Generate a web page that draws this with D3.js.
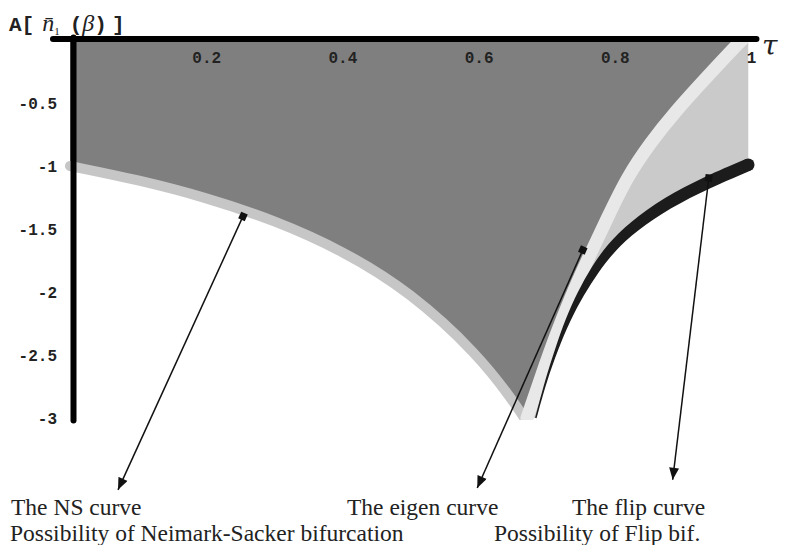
<!DOCTYPE html>
<html>
<head>
<meta charset="utf-8">
<script src="https://cdn.jsdelivr.net/npm/d3@7"></script>
<style>
body { margin: 0; background: #fff; }
</style>
</head>
<body>
<div id="chart"></div>
<script>
//Data
var xTicks = [0.2, 0.4, 0.6, 0.8, 1];
var yTicks = [-0.5, -1, -1.5, -2, -2.5, -3];

//NS curve (Neimark-Sacker)
var nsTau = [0, 0.1, 0.2, 0.3, 0.4, 0.5, 0.6, 0.65, 0.667];
var nsValue = [-1.0, -1.11, -1.25, -1.43, -1.67, -2.0, -2.5, -2.86, -3.0];

//eigen curve
var eigenTau = [0.671, 0.692, 0.714, 0.736, 0.761, 0.789, 0.818, 0.852, 0.887, 0.935, 0.979, 0.987];
var eigenValue = [-3.0, -2.667, -2.333, -2.032, -1.730, -1.413, -1.087, -0.817, -0.579, -0.294, -0.040, 0];

//flip curve
var flipTau = [0.684, 0.699, 0.714, 0.731, 0.750, 0.771, 0.794, 0.827, 0.877, 0.935, 0.996];
var flipValue = [-3.0, -2.70, -2.46, -2.22, -2.01, -1.82, -1.65, -1.48, -1.29, -1.13, -0.99];

//arrows: start on the curve, end next to the caption (tau, value)
var arrowFrom = [[0.254, -1.40], [0.753, -1.667], [0.938, -1.095]];
var arrowTo = [[0.0705, -3.57], [0.598, -3.556], [0.885, -3.49]];

var captionTop = ["The NS curve", "The eigen curve", "The flip curve"];
var captionBottom = ["Possibility of Neimark-Sacker bifurcation", "Possibility of Flip bif."];

//---------------------------------------------------------------------------//

//style: thickness of the flip curve along its points (thin at the bottom)
var flipWidth = [1.5, 2, 3, 5, 7, 8.5, 10, 11, 12, 12.5, 12.5];

var svgWidth = 796;
var svgHeight = 545;

var svg = d3.select("#chart")
    .append("svg")
    .attr("width", svgWidth)
    .attr("height", svgHeight);

var x = d3.scaleLinear().domain([0, 1]).range([70, 751]);
var y = d3.scaleLinear().domain([0, -3]).range([40, 418]);

function toPoints(ts, vs) {
    return ts.map(function(t, i) { return [x(t), y(vs[i])]; });
}

var nsPts = toPoints(nsTau, nsValue);
var eigenPts = toPoints(eigenTau, eigenValue);
var flipPts = toPoints(flipTau, flipValue);

var smooth = d3.line().curve(d3.curveBasis);

//clip shapes to the plot box
svg.append("defs").append("clipPath")
    .attr("id", "plotClip")
    .append("rect")
    .attr("x", x(0) - 12)
    .attr("y", y(0))
    .attr("width", x(1) - x(0) + 24)
    .attr("height", y(-3) - y(0) + 2);

var plot = svg.append("g").attr("clip-path", "url(#plotClip)");

//light region between eigen curve and flip curve
var lightPath = smooth(eigenPts.slice().reverse())
    + smooth(flipPts).replace("M", "L")
    + "L" + x(flipTau[flipTau.length - 1]) + "," + y(0) + "Z";
plot.append("path").attr("d", lightPath).attr("fill", "#cacaca");

//dark region above the NS curve and left of the eigen curve
var darkPath = smooth(nsPts)
    + smooth(eigenPts).replace("M", "L")
    + "L" + x(0) + "," + y(0) + "Z";
plot.append("path").attr("d", darkPath).attr("fill", "#7f7f7f");

//NS band
plot.append("path")
    .attr("d", smooth(nsPts))
    .attr("fill", "none")
    .attr("stroke", "#c6c6c6")
    .attr("stroke-width", 10)
    .attr("stroke-linecap", "round");

//eigen band
plot.append("path")
    .attr("d", smooth(eigenPts))
    .attr("fill", "none")
    .attr("stroke", "#e8e8e8")
    .attr("stroke-width", 13)
    .attr("stroke-linecap", "round");

//flip curve as a tapered ribbon
function ribbon(pts, widths) {
    var left = [], right = [];
    pts.forEach(function(p, i) {
        var a = pts[Math.max(i - 1, 0)], b = pts[Math.min(i + 1, pts.length - 1)];
        var dx = b[0] - a[0], dy = b[1] - a[1], len = Math.hypot(dx, dy);
        var nx = -dy / len, ny = dx / len, h = widths[i] / 2;
        left.push([p[0] + nx * h, p[1] + ny * h]);
        right.push([p[0] - nx * h, p[1] - ny * h]);
    });
    return smooth(left) + smooth(right.reverse()).replace("M", "L") + "Z";
}
plot.append("path").attr("d", ribbon(flipPts, flipWidth)).attr("fill", "#1c1c1c");
var flipEnd = flipPts[flipPts.length - 1];
plot.append("circle")
    .attr("cx", flipEnd[0]).attr("cy", flipEnd[1])
    .attr("r", flipWidth[flipWidth.length - 1] / 2)
    .attr("fill", "#1c1c1c");

//arrow markers
var defs = svg.select("defs");
defs.append("marker")
    .attr("id", "head")
    .attr("viewBox", "0 0 12 10")
    .attr("refX", 12).attr("refY", 5)
    .attr("markerWidth", 13).attr("markerHeight", 10)
    .attr("markerUnits", "userSpaceOnUse")
    .attr("orient", "auto")
    .append("path").attr("d", "M0,0L12,5L0,10Z").attr("fill", "#111");
defs.append("marker")
    .attr("id", "tail")
    .attr("viewBox", "-5 -5 10 10")
    .attr("refX", 0).attr("refY", 0)
    .attr("markerWidth", 9).attr("markerHeight", 9)
    .attr("markerUnits", "userSpaceOnUse")
    .attr("orient", "auto")
    .append("path").attr("d", "M-4,-4L4,-4L4,4L-4,4Z").attr("fill", "#111");

svg.selectAll(".arrow")
    .data(arrowFrom)
    .enter()
    .append("line")
    .attr("class", "arrow")
    .attr("x1", d => x(d[0]))
    .attr("y1", d => y(d[1]))
    .attr("x2", (d, i) => x(arrowTo[i][0]))
    .attr("y2", (d, i) => y(arrowTo[i][1]))
    .attr("stroke", "#111")
    .attr("stroke-width", 1.5)
    .attr("marker-start", "url(#tail)")
    .attr("marker-end", "url(#head)");

//axes lines (thick, Mathematica style)
svg.append("line")
    .attr("x1", x(-0.025)).attr("x2", x(1.008))
    .attr("y1", y(0) - 1).attr("y2", y(0) - 1)
    .attr("stroke", "#000").attr("stroke-width", 6).attr("stroke-linecap", "round");
svg.append("line")
    .attr("x1", x(0) + 3.5).attr("x2", x(0) + 3.5)
    .attr("y1", y(0.02)).attr("y2", y(-3.02))
    .attr("stroke", "#000").attr("stroke-width", 6).attr("stroke-linecap", "round");

//tick labels
var xAxis = svg.append("g")
    .attr("transform", `translate(0, ${y(0)})`)
    .call(d3.axisBottom(x).tickValues(xTicks).tickSize(0).tickPadding(12).tickFormat(d => String(d)));
var yAxis = svg.append("g")
    .attr("transform", `translate(${x(0)}, 0)`)
    .call(d3.axisLeft(y).tickValues(yTicks).tickSize(0).tickPadding(13).tickFormat(d => String(d)));
[xAxis, yAxis].forEach(function(g) {
    g.select(".domain").remove();
    g.attr("font-family", "Liberation Mono")
        .attr("font-size", 16)
        .attr("font-weight", "bold");
    g.selectAll("text").attr("fill", "#222");
});

//axis names
var yName = svg.append("text")
    .attr("x", 9)
    .attr("y", 31)
    .attr("fill", "#222");
yName.append("tspan").attr("font-family", "Liberation Mono").attr("font-weight", "bold").attr("font-size", 21).text("A[");
yName.append("tspan").attr("font-family", "Liberation Serif").attr("font-style", "italic").attr("font-size", 24).attr("dx", 8).text("n\u0304");
yName.append("tspan").attr("font-family", "Liberation Serif").attr("font-size", 11).attr("dy", 4).text("1");
yName.append("tspan").attr("font-family", "Liberation Mono").attr("font-weight", "bold").attr("font-size", 21).attr("dy", -4).attr("dx", 10).text("(");
yName.append("tspan").attr("font-family", "Liberation Serif").attr("font-style", "italic").attr("font-size", 24).text("\u03b2");
yName.append("tspan").attr("font-family", "Liberation Mono").attr("font-weight", "bold").attr("font-size", 21).text(")");
yName.append("tspan").attr("font-family", "Liberation Mono").attr("font-weight", "bold").attr("font-size", 21).attr("dx", 5).text("]");

svg.append("text")
    .attr("x", 762)
    .attr("y", 55)
    .attr("font-family", "DejaVu Serif")
    .attr("font-style", "italic")
    .attr("font-size", 28)
    .attr("fill", "#222")
    .text("\u03c4");

//captions
var topX = [11, 347, 572];
svg.selectAll(".capTop")
    .data(captionTop)
    .enter()
    .append("text")
    .attr("class", "capTop")
    .attr("x", (d, i) => topX[i])
    .attr("y", 515)
    .attr("font-family", "Liberation Serif")
    .attr("font-size", 23.5)
    .attr("fill", "#222")
    .text(d => d);

var bottomX = [10, 494];
svg.selectAll(".capBottom")
    .data(captionBottom)
    .enter()
    .append("text")
    .attr("class", "capBottom")
    .attr("x", (d, i) => bottomX[i])
    .attr("y", 541)
    .attr("font-family", "Liberation Serif")
    .attr("font-size", 23.5)
    .attr("fill", "#222")
    .text(d => d);
</script>
</body>
</html>
